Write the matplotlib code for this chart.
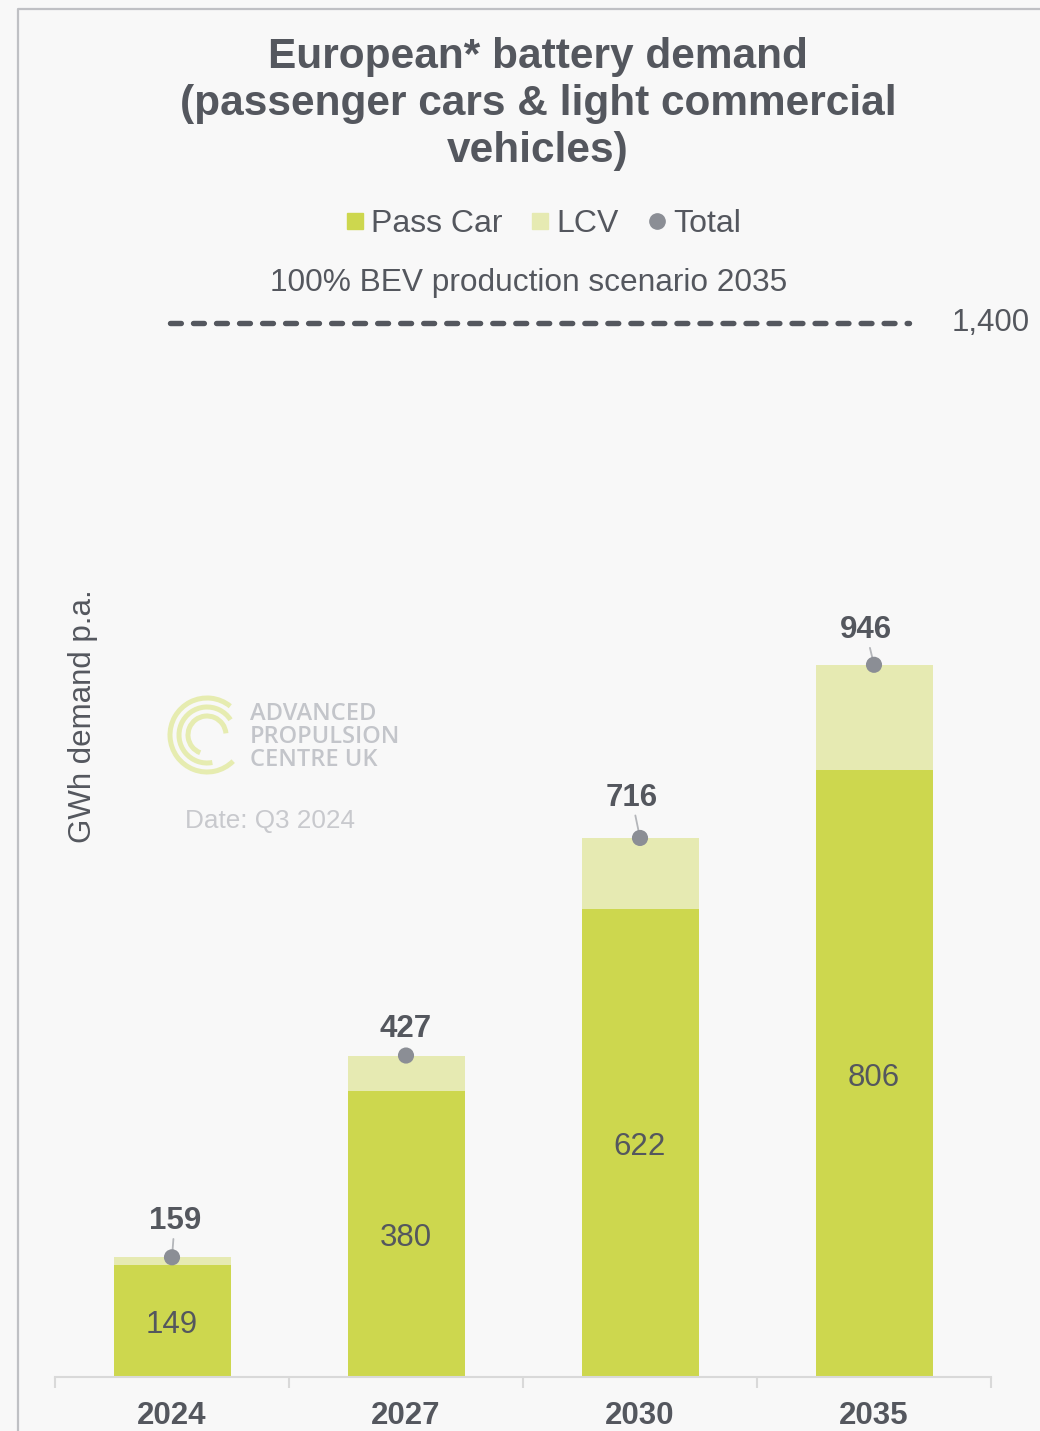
import numpy as np
import matplotlib
matplotlib.use("Agg")
from matplotlib import pyplot as plt
from matplotlib.patches import Arc
from matplotlib.lines import Line2D

# battery demand, GWh per year
years = ["2024", "2027", "2030", "2035"]
pass_car = [149, 380, 622, 806]
lcv = [10, 47, 94, 140]
totals = [159, 427, 716, 946]
scenario_value = 1400

C_PASS = "#cdd74e"
C_LCV = "#e6eab2"
C_DOT = "#8b8e95"
C_TEXT = "#54575e"
C_GRID = "#d9d9d9"
BG = "#f8f8f8"

W, H = 1040, 1431
plt.rcParams["font.family"] = ["Liberation Sans", "DejaVu Sans"]

fig = plt.figure(figsize=(W / 100, H / 100), dpi=100, facecolor=BG)

def px(x, y):
    # pixel position (from top-left) -> figure fraction
    return x / W, 1 - y / H

# panel border (top and left edges)
fig.add_artist(Line2D([18 / W, 18 / W, 1.01], [-0.01, 1 - 9 / H, 1 - 9 / H],
                      transform=fig.transFigure, color="#bfc0c4", lw=1.6))

ax = fig.add_axes([55 / W, 54 / H, 936 / W, 1054 / H])
ax.set_facecolor("none")
x = np.arange(len(years))
ax.bar(x, pass_car, width=0.5, color=C_PASS, zorder=2)
ax.bar(x, lcv, width=0.5, bottom=pass_car, color=C_LCV, zorder=2)
ax.scatter(x, totals, s=135, color=C_DOT, zorder=6, edgecolor="none")

ax.set_xlim(-0.5, len(years) - 0.5)
ax.set_ylim(0, scenario_value)
for s in ["top", "left", "right"]:
    ax.spines[s].set_visible(False)
ax.spines["bottom"].set_color(C_GRID)
ax.spines["bottom"].set_linewidth(1.5)
ax.set_yticks([])
ax.set_xticks(x, years)
ax.set_xticks(np.arange(-0.5, len(years)), minor=True)
ax.tick_params(axis="x", which="major", length=0, pad=17, labelsize=22.5,
               labelcolor=C_TEXT)
ax.tick_params(axis="x", which="minor", length=8, width=1.5, color=C_GRID)
for t in ax.get_xticklabels():
    t.set_fontweight("bold")

# value labels inside the pass car segments
for xi, v in zip(x, pass_car):
    ax.annotate(f"{v}", (xi, v / 2), xytext=(0, -3), textcoords="offset points",
                ha="center", va="center", fontsize=22.5, color=C_TEXT,
                zorder=5)

# total labels with leader lines
label_offsets = [(2, 26), (0, 19), (-6, 29), (-6, 25)]
leaders = [True, False, True, True]
for xi, v, (dx, dy), ld in zip(x, totals, label_offsets, leaders):
    ax.annotate(f"{v}", (xi, v), xytext=(dx, dy), textcoords="offset points",
                ha="center", va="center", fontsize=22.5, fontweight="bold",
                color=C_TEXT, zorder=5,
                arrowprops=dict(arrowstyle="-", color="#b4b6ba", lw=1.3,
                                shrinkA=0, shrinkB=0) if ld else None)

# 100% BEV scenario line
ax.plot([-0.01, 3.15], [scenario_value, scenario_value], color=C_TEXT, lw=3.9,
        dashes=(2.0, 2.25), dash_capstyle="round", clip_on=False, zorder=3)
ax.text(3.5, scenario_value, f"{scenario_value:,}", ha="center", va="center",
        fontsize=22.5, color=C_TEXT, clip_on=False)
fig.text(*px(529, 283), "100% BEV production scenario 2035", ha="center",
         va="center", fontsize=22.8, color=C_TEXT)

# title
fig.text(*px(538, 104),
         "European* battery demand\n(passenger cars & light commercial\nvehicles)",
         ha="center", va="center", fontsize=30.5, fontweight="bold",
         color=C_TEXT, linespacing=1.22)

# legend
handles = [
    Line2D([], [], marker="s", ls="none", ms=12, color=C_PASS, label="Pass Car"),
    Line2D([], [], marker="s", ls="none", ms=12, color=C_LCV, label="LCV"),
    Line2D([], [], marker="o", ls="none", ms=11, color=C_DOT, label="Total"),
]
fig.legend(handles=handles, loc="center", bbox_to_anchor=px(543, 224),
           ncol=3, frameon=False, fontsize=23, labelcolor=C_TEXT,
           handlelength=0.6, handletextpad=0.2, columnspacing=0.9)

# y axis title
fig.text(*px(83, 716), "GWh demand p.a.", rotation=90, ha="center",
         va="center", fontsize=22.5, color=C_TEXT)

# logo: three open arcs, drawn in pixel units
lax = fig.add_axes([160 / W, 1 - 783 / H, 90 / W, 95 / H])
lax.set_xlim(160, 250)
lax.set_ylim(-783, -688)
lax.axis("off")
for r, a0, a1 in [(37, 51, 315), (28, 33, 281), (19, 5, 249)]:
    lax.add_patch(Arc((207, -735), 2 * r, 2 * r, theta1=a0, theta2=a1,
                      color="#e6ecb0", lw=3.6, capstyle="butt"))
fig.text(*px(250, 737), "ADVANCED\nPROPULSION\nCENTRE UK", ha="left",
         va="center", fontsize=17, color="#c3c5ca", linespacing=0.95,
         family=["Open Sans", "DejaVu Sans"], fontweight="semibold")
fig.text(*px(185, 821), "Date: Q3 2024", ha="left", va="center",
         fontsize=18.8, color="#c8c9cd")

fig.savefig("out.png", dpi=100, facecolor=BG)
